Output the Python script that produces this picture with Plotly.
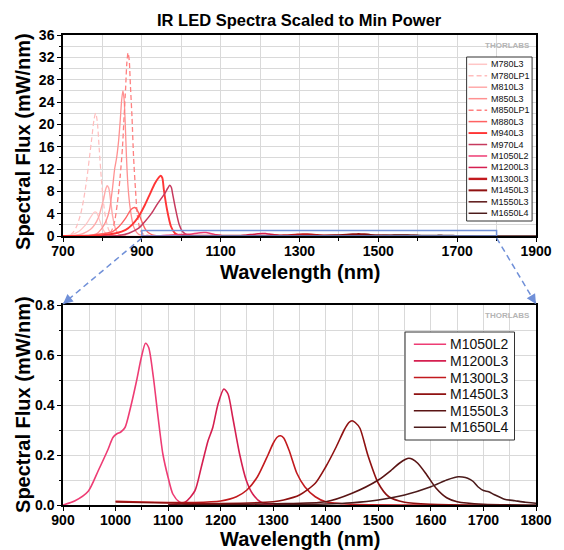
import math
import plotly.graph_objects as go

# ---------------- data ----------------
names = ["M780L3", "M780LP1", "M810L3", "M850L3", "M850LP1", "M880L3", "M940L3",
         "M970L4", "M1050L2", "M1200L3", "M1300L3", "M1450L3", "M1550L3", "M1650L4"]

wl_M780L3 = [700, 720, 740, 755, 765, 773, 780, 785, 791, 797, 803, 810, 820, 840, 900]
fx_M780L3 = [0, 0.2, 0.8, 1.8, 2.8, 3.7, 4.3, 4.2, 3.2, 2.0, 1.0, 0.4, 0.1, 0, 0]

wl_M780LP1 = [700, 715, 725, 735, 745, 752, 760, 767, 773, 779, 783, 787, 792, 797, 802, 808, 816, 826, 850]
fx_M780LP1 = [0, 0.1, 0.6, 1.8, 4.0, 6.4, 10.0, 14.0, 17.5, 21.0, 22.0, 20.5, 15.5, 10.5, 6.5, 3.3, 1.1, 0.2, 0]

wl_M810L3 = [720, 750, 770, 780, 790, 797, 803, 808, 812, 816, 820, 826, 834, 842, 860]
fx_M810L3 = [0, 0.4, 1.2, 2.0, 3.3, 5.0, 6.6, 8.3, 9.0, 8.6, 6.8, 3.5, 1.1, 0.3, 0]

wl_M850L3 = [750, 785, 800, 810, 818, 826, 831, 836, 841, 845, 849, 852, 855, 858, 861, 865, 871, 879, 892, 920]
fx_M850L3 = [0, 0.4, 1.5, 2.8, 4.7, 8.8, 12.0, 14.0, 17.0, 20.5, 24.5, 26.0, 24.5, 20.0, 14.2, 8.8, 4.7, 1.7, 0.3, 0]

wl_M850LP1 = [780, 810, 822, 830, 838, 845, 851, 855, 859, 862, 865, 868, 871, 875, 879, 884, 889, 896, 904, 930]
fx_M850LP1 = [0, 0.2, 0.8, 2.3, 5.9, 10.6, 16.0, 21.4, 26.7, 31.0, 32.8, 31.5, 27.0, 21.4, 14.2, 8.2, 3.5, 1.1, 0.3, 0]

wl_M880L3 = [760, 800, 826, 842, 859, 871, 877, 882, 887, 892, 900, 910, 921, 933, 960]
fx_M880L3 = [0, 0.4, 0.8, 1.7, 3.2, 4.6, 5.0, 5.1, 4.8, 4.1, 2.6, 1.1, 0.4, 0.1, 0]

wl_M940L3 = [700, 760, 800, 834, 859, 875, 892, 908, 921, 933, 941, 948, 952, 956, 964, 974, 984, 995, 1010, 1100]
fx_M940L3 = [0, 0.05, 0.15, 0.5, 1.1, 2.0, 3.5, 5.6, 7.6, 9.4, 10.3, 10.8, 10.4, 8.2, 4.7, 1.7, 0.5, 0.1, 0, 0]

wl_M970L4 = [800, 842, 867, 892, 908, 925, 941, 958, 966, 971, 975, 978, 986, 995, 1003, 1015, 1040, 1100]
fx_M970L4 = [0, 0.1, 0.5, 1.4, 2.6, 4.1, 5.9, 7.6, 8.6, 9.1, 8.7, 7.6, 4.7, 2.0, 0.8, 0.2, 0, 0]

wl_M1050L2 = [900, 923, 948, 967, 986, 995, 1002, 1010, 1018, 1027, 1040, 1049, 1057, 1063, 1072,
              1081, 1090, 1100, 1109, 1122, 1135, 1200, 1300]
fx_M1050L2 = [0.0, 0.017, 0.055, 0.137, 0.224, 0.27, 0.284, 0.292, 0.31, 0.377, 0.497, 0.59, 0.647, 0.63, 0.51,
              0.35, 0.204, 0.11, 0.044, 0.011, 0.003, 0.001, 0]

wl_M1200L3 = [1100, 1132, 1151, 1163, 1176, 1185, 1195, 1206, 1214, 1223, 1236, 1249, 1261, 1277, 1296, 1350]
fx_M1200L3 = [0.0, 0.011, 0.057, 0.15, 0.257, 0.31, 0.404, 0.464, 0.444, 0.35, 0.204, 0.097, 0.044, 0.011, 0.003, 0]

wl_M1300L3 = [1000, 1050, 1100, 1150, 1200, 1230, 1250, 1270, 1290, 1300, 1308, 1314, 1320, 1330, 1345,
              1360, 1380, 1400, 1450, 1600]
fx_M1300L3 = [0.015, 0.012, 0.01, 0.01, 0.016, 0.033, 0.06, 0.113, 0.2, 0.247, 0.272, 0.277, 0.268, 0.22, 0.127,
              0.073, 0.033, 0.013, 0.003, 0]

wl_M1450L3 = [1000, 1100, 1200, 1300, 1320, 1350, 1380, 1400, 1420, 1435, 1444, 1450, 1456, 1465, 1480,
              1500, 1520, 1550, 1600, 1700]
fx_M1450L3 = [0.012, 0.008, 0.006, 0.013, 0.02, 0.04, 0.087, 0.153, 0.233, 0.3, 0.33, 0.337, 0.33, 0.307, 0.2,
              0.087, 0.033, 0.011, 0.003, 0]

wl_M1550L3 = [1100, 1300, 1400, 1450, 1500, 1525, 1540, 1552, 1558, 1565, 1575, 1590, 1610, 1630, 1650, 1700, 1800]
fx_M1550L3 = [0.0, 0.005, 0.013, 0.047, 0.1, 0.14, 0.167, 0.183, 0.187, 0.183, 0.167, 0.127, 0.067, 0.029, 0.013,
              0.003, 0]

wl_M1650L4 = [1300, 1400, 1450, 1500, 1550, 1600, 1630, 1645, 1652, 1660, 1670, 1680, 1690, 1700, 1710,
              1720, 1740, 1760, 1780, 1800, 1850, 1900]
fx_M1650L4 = [0.0, 0.004, 0.009, 0.02, 0.04, 0.073, 0.1, 0.11, 0.113, 0.112, 0.107, 0.095, 0.072, 0.058, 0.053,
              0.042, 0.023, 0.017, 0.011, 0.007, 0.003, 0.001]

wavelengths = [wl_M780L3, wl_M780LP1, wl_M810L3, wl_M850L3, wl_M850LP1, wl_M880L3, wl_M940L3,
               wl_M970L4, wl_M1050L2, wl_M1200L3, wl_M1300L3, wl_M1450L3, wl_M1550L3, wl_M1650L4]
fluxes = [fx_M780L3, fx_M780LP1, fx_M810L3, fx_M850L3, fx_M850LP1, fx_M880L3, fx_M940L3,
          fx_M970L4, fx_M1050L2, fx_M1200L3, fx_M1300L3, fx_M1450L3, fx_M1550L3, fx_M1650L4]

zoom_names = names[8:]          # series shown in the lower (zoomed) chart
zoom_box_x = [900, 1800]        # wavelength extent of the zoom region
zoom_box_top = 1.0              # flux height of the zoom box in the upper chart

top_x_range = [700, 1900]
top_y_range = [0, 36]
bot_x_range = [900, 1800]
bot_y_range = [0, 0.8]

# ---------------- styles ----------------
colors = ['#FFC6C6', '#FFBDBD', '#FFAAAA', '#FF9191', '#FF8080', '#FF6262', '#FF3535',
          '#C63A5E', '#EE3C74', '#D51F50', '#C21A1E', '#8F1111', '#5A1414', '#4B1B1B']
dashes = ['solid', '5px,3px', 'solid', 'solid', '5px,3px', 'solid', 'solid',
          'solid', 'solid', 'solid', 'solid', 'solid', 'solid', 'solid']
top_widths = [1.2, 1.2, 1.4, 1.3, 1.3, 1.4, 1.9, 1.5, 1.5, 1.5, 2.4, 2.0, 1.5, 1.5]

FONT = "Liberation Sans, Arial, sans-serif"
W, H = 564, 550
ML, MR, MT, MB = 63, 17, 35, 45
PX_W = W - ML - MR
PX_H = H - MT - MB
TOP_Y0_PX = 236
BOT_Y1_PX = 305


def pxx(x):
    return (x - ML) / PX_W


def pxy(y):
    return (H - MB - y) / PX_H


top_domain = [pxy(TOP_Y0_PX), 1.0]
bot_domain = [0.0, pxy(BOT_Y1_PX)]

fig = go.Figure()

for i, n in enumerate(names):
    fig.add_trace(go.Scatter(
        x=wavelengths[i], y=fluxes[i], name=n, mode='lines',
        line=dict(color=colors[i], dash=dashes[i], width=top_widths[i], shape='spline', smoothing=0.7),
        xaxis='x', yaxis='y', showlegend=False, hoverinfo='skip'))

for n in zoom_names:
    i = names.index(n)
    fig.add_trace(go.Scatter(
        x=wavelengths[i], y=fluxes[i], name=n, mode='lines',
        line=dict(color=colors[i], width=1.6, shape='spline', smoothing=0.7),
        xaxis='x2', yaxis='y2', showlegend=False, hoverinfo='skip'))

grid = '#D9D9D9'
tickfont = dict(family=FONT, size=14, color='black', weight='bold')
axis_common = dict(showline=True, linecolor='black', linewidth=1.5, mirror=True,
                   showgrid=True, gridcolor=grid, gridwidth=1, zeroline=False,
                   ticks='outside', ticklen=4, tickcolor='black', tickwidth=1,
                   tickfont=tickfont)
xaxis_extra = dict(ticklabelstandoff=-3)

fig.update_layout(
    width=W, height=H,
    margin=dict(l=ML, r=MR, t=MT, b=MB),
    paper_bgcolor='white', plot_bgcolor='white',
    xaxis=dict(domain=[0, 1], range=top_x_range, tick0=700, dtick=200, anchor='y',
               minor=dict(dtick=100, showgrid=True, gridcolor=grid, ticks='outside', ticklen=3, tickcolor='black'),
               **axis_common, **xaxis_extra),
    yaxis=dict(domain=top_domain, range=top_y_range, dtick=4, anchor='x',
               minor=dict(dtick=2, showgrid=True, gridcolor=grid, ticks='outside', ticklen=2, tickcolor='black'),
               **axis_common),
    xaxis2=dict(domain=[0, 1], range=bot_x_range, tick0=900, dtick=100, anchor='y2',
                minor=dict(dtick=50, showgrid=True, gridcolor=grid, ticks='outside', ticklen=3, tickcolor='black'),
                **axis_common, **xaxis_extra),
    yaxis2=dict(domain=bot_domain, range=bot_y_range, dtick=0.2, tickformat='.1f', anchor='x2',
                minor=dict(dtick=0.1, showgrid=True, gridcolor=grid, ticks='outside', ticklen=2, tickcolor='black'),
                **axis_common),
    showlegend=False,
)

annotations = []
shapes = []

# titles
annotations.append(dict(text='IR LED Spectra Scaled to Min Power', x=pxx(305), y=pxy(20),
                        xref='paper', yref='paper', showarrow=False, xanchor='center', yanchor='middle',
                        font=dict(family=FONT, size=16.5, color='black', weight='bold')))
for (yt, xt) in [(141, 272), (404, 539)]:
    annotations.append(dict(text='Spectral Flux (mW/nm)', x=pxx(22), y=pxy(yt), xref='paper', yref='paper',
                            showarrow=False, textangle=-90, xanchor='center', yanchor='middle',
                            font=dict(family=FONT, size=20, color='black', weight='bold')))
    annotations.append(dict(text='Wavelength (nm)', x=pxx(305), y=pxy(xt), xref='paper', yref='paper',
                            showarrow=False, xanchor='center', yanchor='middle',
                            font=dict(family=FONT, size=20, color='black', weight='bold')))

# watermark
for wy in [46, 315]:
    annotations.append(dict(text='THORLABS', x=pxx(543), y=pxy(wy), xref='paper', yref='paper',
                            showarrow=False, xanchor='right', yanchor='middle',
                            font=dict(family=FONT, size=8, color='#B4B4B4', weight='bold')))

# zoom box in the upper chart
blue = '#7090D8'
shapes.append(dict(type='rect', xref='x', yref='y', x0=zoom_box_x[0], x1=zoom_box_x[1],
                   y0=0, y1=zoom_box_top, line=dict(color=blue, width=1.5)))

# connector lines + arrowheads
for k, xv in enumerate(zoom_box_x):
    tail_px = ML + (xv - top_x_range[0]) / (top_x_range[1] - top_x_range[0]) * PX_W
    tail_py = TOP_Y0_PX + 2
    head_px = ML + (xv - bot_x_range[0]) / (bot_x_range[1] - bot_x_range[0]) * PX_W
    head_py = BOT_Y1_PX - 1
    shapes.append(dict(type='line', xref='paper', yref='paper',
                       x0=pxx(tail_px), y0=pxy(tail_py), x1=pxx(head_px), y1=pxy(head_py),
                       line=dict(color=blue, width=1.5, dash='6px,4px')))
    dx, dy = tail_px - head_px, tail_py - head_py
    L = math.hypot(dx, dy)
    annotations.append(dict(text='', x=pxx(head_px), y=pxy(head_py), xref='paper', yref='paper',
                            showarrow=True, ax=dx / L * 11, ay=dy / L * 11, axref='pixel', ayref='pixel',
                            arrowhead=2, arrowsize=1.3, arrowwidth=1.5, arrowcolor=blue, standoff=0))

# manual legend: upper chart
shapes.append(dict(type='rect', xref='paper', yref='paper', x0=pxx(476), x1=pxx(543),
                   y0=pxy(221), y1=pxy(57), line=dict(color='#333333', width=1), fillcolor='white'))
for i, n in enumerate(names):
    yi = 64.3 + i * 11.46
    shapes.append(dict(type='line', xref='paper', yref='paper', x0=pxx(478), x1=pxx(497),
                       y0=pxy(yi), y1=pxy(yi),
                       line=dict(color=colors[i], width=max(1.5, top_widths[i]), dash=dashes[i])))
    annotations.append(dict(text=n, x=pxx(498.5), y=pxy(yi), xref='paper', yref='paper', showarrow=False,
                            xanchor='left', yanchor='middle',
                            font=dict(family=FONT, size=9, color='#111111')))

# manual legend: lower chart
shapes.append(dict(type='rect', xref='paper', yref='paper', x0=pxx(413), x1=pxx(525),
                   y0=pxy(440), y1=pxy(332), line=dict(color='#333333', width=1), fillcolor='white'))
for j, n in enumerate(zoom_names):
    i = names.index(n)
    yi = 344.3 + j * 16.6
    shapes.append(dict(type='line', xref='paper', yref='paper', x0=pxx(422), x1=pxx(455),
                       y0=pxy(yi), y1=pxy(yi), line=dict(color=colors[i], width=1.6)))
    annotations.append(dict(text=n, x=pxx(456.5), y=pxy(yi), xref='paper', yref='paper', showarrow=False,
                            xanchor='left', yanchor='middle',
                            font=dict(family=FONT, size=14, color='#111111')))

fig.update_layout(annotations=annotations, shapes=shapes)
fig.write_html("out.html",
               config={'displayModeBar': False},
               post_script="document.body.style.margin='0';"
                           "document.documentElement.style.overflow='hidden';")
